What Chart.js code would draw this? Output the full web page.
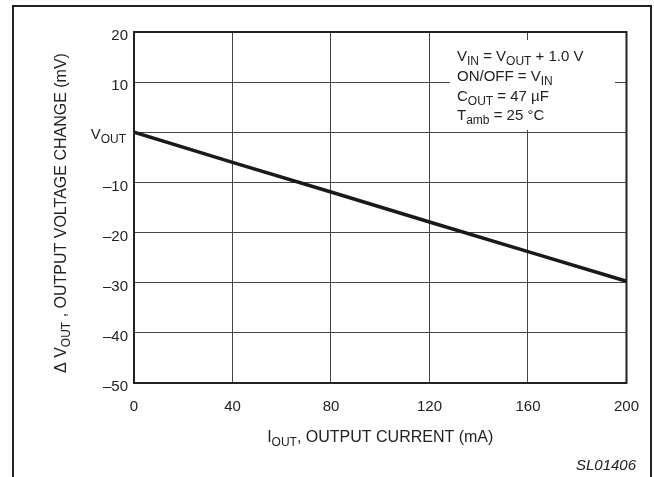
<!DOCTYPE html>
<html><head><meta charset="utf-8">
<script src="https://cdn.jsdelivr.net/npm/chart.js@4"></script>
<style>html,body{margin:0;padding:0;background:#fff;}#wrap{width:654px;height:477px;position:relative;}</style>
</head><body><div id="wrap"><canvas id="c" width="654" height="477"></canvas></div>
<script>
const currentMA = [0, 40, 80, 120, 160, 200];
const deltaVmV = [0, -6, -11.9, -17.9, -23.8, -29.7];
const xTicks = [0, 40, 80, 120, 160, 200];
const yTicks = [20, 10, 0, -10, -20, -30, -40, -50];
const conditions = [
  [{t:'V'},{t:'IN',s:1},{t:' = V'},{t:'OUT',s:1},{t:' + 1.0 V'}],
  [{t:'ON/OFF = V'},{t:'IN',s:1}],
  [{t:'C'},{t:'OUT',s:1},{t:' = 47 \u00b5F'}],
  [{t:'T'},{t:'amb',s:1},{t:' = 25 \u00b0C'}]
];
const FONT = '"Liberation Sans", Arial, sans-serif';
const INK = '#222';

function rich(ctx, segs, x, y, align, size, subSize, subDy) {
  const big = size + 'px ' + FONT, small = subSize + 'px ' + FONT;
  let w = 0;
  segs.forEach(s => { ctx.font = s.s ? small : big; w += ctx.measureText(s.t).width; });
  let cx = align === 'center' ? x - w/2 : (align === 'right' ? x - w : x);
  ctx.textAlign = 'left'; ctx.textBaseline = 'alphabetic';
  segs.forEach(s => {
    ctx.font = s.s ? small : big;
    ctx.fillText(s.t, cx, y + (s.s ? subDy : 0));
    cx += ctx.measureText(s.t).width;
  });
}

const deco = {
  id: 'deco',
  beforeDraw(chart) {
    const ctx = chart.ctx; ctx.save();
    ctx.fillStyle = '#fff'; ctx.fillRect(0,0,chart.width,chart.height);
    ctx.restore();
  },
  afterDraw(chart) {
    const ctx = chart.ctx, a = chart.chartArea;
    const ys = chart.scales.y;
    ctx.save();
    // outer frame
    ctx.strokeStyle = INK; ctx.lineWidth = 2;
    ctx.beginPath(); ctx.moveTo(13, 477); ctx.lineTo(13, 6); ctx.lineTo(651, 6); ctx.lineTo(651, 477); ctx.stroke();
    ctx.fillStyle = INK;
    // y tick labels (from the scale's own ticks)
    ctx.font = '15px ' + FONT; ctx.textAlign = 'right'; ctx.textBaseline = 'middle';
    ys.ticks.forEach(t => {
      const y = ys.getPixelForValue(t.value);
      if (t.value === 0) {
        rich(ctx, [{t:'V'},{t:'OUT',s:1}], 126, y + 6.5, 'right', 15, 12, 4);
        ctx.font = '15px ' + FONT; ctx.textAlign = 'right'; ctx.textBaseline = 'middle';
      } else {
        const lbl = t.value < 0 ? '\u2013' + Math.abs(t.value) : String(t.value);
        ctx.fillText(lbl, 128, y + 4);
      }
    });
    // conditions box
    ctx.fillStyle = '#fff'; ctx.fillRect(450, 40, 165, 90);
    ctx.fillStyle = INK;
    const bl = [61, 81, 101, 120];
    conditions.forEach((segs, i) => rich(ctx, segs, 457, bl[i], 'left', 15, 12, 4));
    // plot frame
    ctx.strokeStyle = INK; ctx.lineWidth = 2;
    ctx.strokeRect(a.left, a.top, a.right - a.left, a.bottom - a.top);
    // axis titles
    rich(ctx, [{t:'I'},{t:'OUT',s:1},{t:', OUTPUT CURRENT (mA)'}], (a.left + a.right)/2, 442, 'center', 16, 12, 4);
    ctx.save();
    ctx.translate(66, 213); ctx.rotate(-Math.PI/2);
    rich(ctx, [{t:'\u0394 V'},{t:'OUT',s:1},{t:' , OUTPUT VOLTAGE CHANGE (mV)'}], 0, 0, 'center', 16, 12, 4);
    ctx.restore();
    ctx.font = 'italic 15px ' + FONT; ctx.textAlign = 'right'; ctx.textBaseline = 'alphabetic';
    ctx.fillText('SL01406', 636, 470);
    ctx.restore();
  }
};

new Chart(document.getElementById('c'), {
  type: 'scatter',
  data: { datasets: [{
    data: currentMA.map((x, i) => ({x, y: deltaVmV[i]})),
    showLine: true, borderColor: '#1a1a1a', borderWidth: 3.5,
    pointRadius: 0, fill: false, tension: 0
  }]},
  options: {
    responsive: false, animation: false, devicePixelRatio: 1,
    layout: { padding: { top: 32, right: 27, left: 0, bottom: 0 } },
    plugins: { legend: { display: false }, tooltip: { enabled: false } },
    scales: {
      x: {
        type: 'linear', min: 0, max: 200,
        afterBuildTicks: s => { s.ticks = xTicks.map(v => ({value: v})); },
        afterFit: s => { s.height = 94; },
        grid: { color: '#444', lineWidth: 1, drawTicks: false },
        border: { display: false },
        ticks: { color: INK, font: { family: FONT, size: 15 }, padding: 15, maxRotation: 0 }
      },
      y: {
        type: 'linear', min: -50, max: 20,
        afterBuildTicks: s => { s.ticks = yTicks.map(v => ({value: v})); },
        afterFit: s => { s.width = 134; },
        grid: { color: '#444', lineWidth: 1, drawTicks: false },
        border: { display: false },
        ticks: { display: false }
      }
    }
  },
  plugins: [deco]
});
</script></body></html>
